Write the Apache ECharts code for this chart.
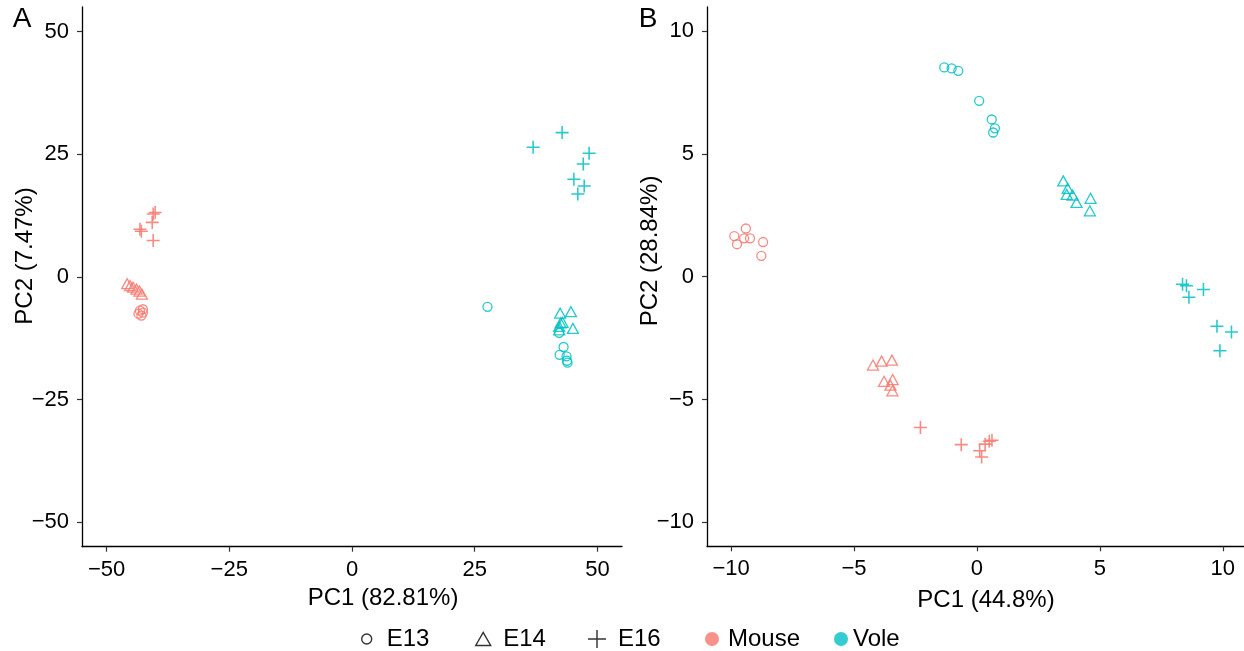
<!DOCTYPE html>
<html>
<head>
<meta charset="utf-8">
<script src="https://cdn.jsdelivr.net/npm/echarts@6/dist/echarts.min.js"></script>
<style>
  html, body { margin: 0; padding: 0; background: #fff; }
  #chart { width: 1244px; height: 651px; }
</style>
</head>
<body>
<div id="chart"></div>
<script>
// Tick labels of the two panels
const ticksA = [-50, -25, 0, 25, 50];
const ticksB = [-10, -5, 0, 5, 10];

// Axis titles
const titleAX = 'PC1 (82.81%)';
const titleAY = 'PC2 (7.47%)';
const titleBX = 'PC1 (44.8%)';
const titleBY = 'PC2 (28.84%)';

// Legend entries
const stages = ['E13', 'E14', 'E16'];
const species = ['Mouse', 'Vole'];

// Panel A: PCA scores [PC1, PC2]
const aMouseE13 = [[-43.2, -6.9], [-42.6, -7.3], [-43.5, -7.5], [-42.9, -7.9], [-42.6, -6.6]];
const aMouseE14 = [[-45.8, -1.4], [-45.2, -1.8], [-44.6, -2.1], [-43.9, -2.5], [-43.3, -2.9], [-42.8, -3.5]];
const aMouseE16 = [[-40.5, 12.8], [-40.1, 13.1], [-40.7, 11.1], [-43.2, 9.7], [-42.9, 9.3], [-40.5, 7.4]];
const aVoleE13 = [[27.6, -6.1], [42.2, -11.4], [43.1, -14.3], [42.3, -15.9], [43.7, -16.2], [43.8, -17.1], [43.9, -17.5]];
const aVoleE14 = [[42.4, -7.4], [44.6, -7.1], [42.5, -9.4], [42.9, -9.3], [45.0, -10.5], [42.2, -10.1], [42.2, -10.8]];
const aVoleE16 = [[42.8, 29.4], [36.9, 26.4], [48.3, 25.2], [47.1, 23.0], [45.2, 19.9], [47.3, 18.5], [46.0, 16.9]];

// Panel B: PCA scores [PC1, PC2]
const bMouseE13 = [[-9.40, 1.96], [-9.87, 1.65], [-9.47, 1.56], [-9.23, 1.56], [-9.76, 1.32], [-8.70, 1.41], [-8.77, 0.85]];
const bMouseE14 = [[-4.23, -3.60], [-3.88, -3.44], [-3.46, -3.40], [-3.78, -4.26], [-3.43, -4.19], [-3.52, -4.42], [-3.44, -4.65]];
const bMouseE16 = [[-2.30, -6.14], [-0.64, -6.84], [0.11, -7.09], [0.19, -7.34], [0.33, -6.82], [0.50, -6.70], [0.61, -6.66]];
const bVoleE13 = [[-1.33, 8.52], [-1.03, 8.48], [-0.76, 8.38], [0.09, 7.16], [0.60, 6.40], [0.73, 6.04], [0.66, 5.87]];
const bVoleE14 = [[3.51, 3.90], [3.69, 3.59], [3.65, 3.35], [3.89, 3.32], [4.05, 3.02], [4.62, 3.19], [4.59, 2.68]];
const bVoleE16 = [[8.36, -0.31], [8.52, -0.37], [9.21, -0.52], [8.62, -0.84], [9.76, -2.02], [10.35, -2.25], [9.88, -3.02]];

const colors = { Mouse: '#F8766D', Vole: '#00BFC4' };
const FONT = '"Liberation Sans", Arial, Helvetica, sans-serif';
const PLUS = 'path://M8.8,0H11.2V8.8H20V11.2H11.2V20H8.8V11.2H0V8.8H8.8Z';
const PLUS_THIN = 'path://M9.2,0H10.8V9.2H20V10.8H10.8V20H9.2V10.8H0V9.2H9.2Z';
const TRI = 'path://M0,13L7.5,0L15,13Z';

const minus = v => String(v).replace('-', '\u2212');

function markerSeries(name, data, axisIndex, stage, color) {
  const s = {
    type: 'scatter',
    name: name,
    xAxisIndex: axisIndex,
    yAxisIndex: axisIndex,
    data: data,
    silent: true,
    emphasis: { disabled: true }
  };
  if (stage === 'E13') {
    s.symbol = 'circle';
    s.symbolSize = 9;
    s.itemStyle = { color: 'rgba(0,0,0,0)', borderColor: color, borderWidth: 1.3, opacity: 0.85 };
  } else if (stage === 'E14') {
    s.symbol = 'triangle';
    s.symbolSize = [11, 10];
    s.itemStyle = { color: 'rgba(0,0,0,0)', borderColor: color, borderWidth: 1.3, opacity: 0.85 };
  } else {
    s.symbol = PLUS;
    s.symbolSize = 13;
    s.itemStyle = { color: color, opacity: 0.85 };
  }
  return s;
}

function valueAxis(gridIndex, min, max, ticks, isX) {
  return {
    type: 'value',
    gridIndex: gridIndex,
    min: min,
    max: max,
    splitLine: { show: false },
    axisLine: { show: true, onZero: false, lineStyle: { color: '#000', width: 1.3 } },
    axisTick: { show: true, length: 5, customValues: ticks, lineStyle: { color: '#333', width: 1.2 } },
    axisLabel: {
      customValues: ticks,
      formatter: minus,
      color: '#000',
      fontFamily: FONT,
      fontSize: 22,
      margin: isX ? 12 : 13
    }
  };
}

const series = [
  markerSeries('A Mouse E13', aMouseE13, 0, 'E13', colors.Mouse),
  markerSeries('A Mouse E14', aMouseE14, 0, 'E14', colors.Mouse),
  markerSeries('A Mouse E16', aMouseE16, 0, 'E16', colors.Mouse),
  markerSeries('A Vole E13', aVoleE13, 0, 'E13', colors.Vole),
  markerSeries('A Vole E14', aVoleE14, 0, 'E14', colors.Vole),
  markerSeries('A Vole E16', aVoleE16, 0, 'E16', colors.Vole),
  markerSeries('B Mouse E13', bMouseE13, 1, 'E13', colors.Mouse),
  markerSeries('B Mouse E14', bMouseE14, 1, 'E14', colors.Mouse),
  markerSeries('B Mouse E16', bMouseE16, 1, 'E16', colors.Mouse),
  markerSeries('B Vole E13', bVoleE13, 1, 'E13', colors.Vole),
  markerSeries('B Vole E14', bVoleE14, 1, 'E14', colors.Vole),
  markerSeries('B Vole E16', bVoleE16, 1, 'E16', colors.Vole)
];

// Empty series that only carry the legend entries
stages.concat(species).forEach(n => {
  series.push({ type: 'scatter', name: n, data: [], xAxisIndex: 0, yAxisIndex: 0 });
});

// Each legend entry is placed by the left edge of its visible icon
const legendIcons = {
  E13: { icon: 'circle', w: 30, h: 10, left: 361, style: { color: 'rgba(0,0,0,0)', borderColor: '#000', borderWidth: 1.4 } },
  E14: { icon: TRI, w: 30, h: 13, left: 475, style: { color: 'rgba(0,0,0,0)', borderColor: '#000', borderWidth: 1.4 } },
  E16: { icon: PLUS_THIN, w: 32, h: 18, left: 588, style: { color: '#000', borderWidth: 0 } },
  Mouse: { icon: 'circle', w: 22, h: 14, left: 705, style: { color: colors.Mouse, borderWidth: 0 } },
  Vole: { icon: 'circle', w: 14, h: 14, left: 834, style: { color: colors.Vole, borderWidth: 0 } }
};

const legends = stages.concat(species).map(n => {
  const d = legendIcons[n];
  return {
    left: d.left,
    top: 627,
    padding: 0,
    itemWidth: d.w,
    itemHeight: d.h,
    selectedMode: false,
    textStyle: { fontFamily: FONT, fontSize: 24, color: '#000' },
    data: [{ name: n, icon: d.icon, itemStyle: d.style }]
  };
});

function label(text, x, y, size, rotate) {
  return {
    type: 'text',
    x: x,
    y: y,
    rotation: rotate ? Math.PI / 2 : 0,
    style: {
      text: text,
      font: size + 'px ' + FONT,
      fill: '#000',
      align: 'center',
      verticalAlign: 'middle'
    }
  };
}

const chart = echarts.init(document.getElementById('chart'), null, { renderer: 'canvas' });
chart.setOption({
  animation: false,
  backgroundColor: '#fff',
  grid: [
    { left: 82, top: 7, width: 540, height: 539.7 },
    { left: 707, top: 7, width: 537, height: 539.3 }
  ],
  xAxis: [
    valueAxis(0, -55, 55, ticksA, true),
    valueAxis(1, -10.98, 10.86, ticksB, true)
  ],
  yAxis: [
    valueAxis(0, -55, 55, ticksA, false),
    valueAxis(1, -10.98, 10.98, ticksB, false)
  ],
  legend: legends,
  graphic: [
    label('A', 22, 19, 28, false),
    label('B', 648, 19, 28, false),
    label(titleAX, 383, 598, 24, false),
    label(titleBX, 986, 600, 24, false),
    label(titleAY, 25, 256, 24, true),
    label(titleBY, 650, 251, 24, true)
  ],
  series: series
});
</script>
</body>
</html>
